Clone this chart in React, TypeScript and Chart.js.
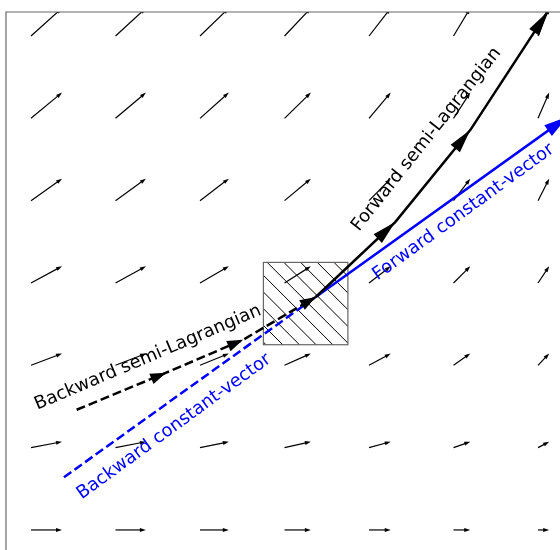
import React, { useEffect, useRef } from "react";
import { Chart, registerables } from "chart.js";

Chart.register(...registerables);

// Sample points of the velocity field
const gridX = [0, 1, 2, 3, 4, 5, 6];
const gridY = [0, 1, 2, 3, 4, 5, 6];
// u varies by column, v varies by row (arbitrary velocity units)
const velU = [1.0, 0.98, 0.93, 0.85, 0.7, 0.54, 0.36];
const velV = [0.0, 0.19, 0.38, 0.54, 0.71, 0.83, 0.9];

// Hatched grid cell
const cellX = [2.75, 3.75];
const cellY = [2.25, 3.25];

// Trajectories through the arrival point
const fwdSemiLagX = [3.37, 4.31, 5.2, 6.11];
const fwdSemiLagY = [2.83, 3.74, 4.86, 6.29];
const bwdSemiLagX = [0.54, 1.6, 2.51, 3.37];
const bwdSemiLagY = [1.46, 1.91, 2.31, 2.83];
const fwdConstX = [3.37, 6.35];
const fwdConstY = [2.83, 5.02];
const bwdConstX = [0.39, 3.37];
const bwdConstY = [0.64, 2.83];

// Annotations
const labelText = [
  "Forward semi-Lagrangian",
  "Backward semi-Lagrangian",
  "Forward constant-vector",
  "Backward constant-vector",
];
const labelX = [3.88, 0.075, 4.1, 0.6];
const labelY = [3.62, 1.46, 3.03, 0.37];
const labelAngle = [51.5, 23, 36, 36];
const labelColor = ["#000000", "#000000", "#0000ff", "#0000ff"];

const BLUE = "#0000ff";
const BLACK = "#000000";
const SPINE = "#666666";
const QUIVER_PX = 31; // pixel length of a unit velocity arrow

const pts = (xs: number[], ys: number[]) => xs.map((x, i) => ({ x, y: ys[i] }));

function drawHead(ctx: CanvasRenderingContext2D, fx: number, fy: number, tx: number, ty: number, len: number, width: number, color: string) {
  const dx = tx - fx;
  const dy = ty - fy;
  const d = Math.hypot(dx, dy) || 1;
  const ux = dx / d;
  const uy = dy / d;
  const bx = tx - ux * len;
  const by = ty - uy * len;
  const nx = -uy * (width / 2);
  const ny = ux * (width / 2);
  ctx.beginPath();
  ctx.moveTo(tx, ty);
  ctx.lineTo(bx + nx, by + ny);
  ctx.lineTo(bx - nx, by - ny);
  ctx.closePath();
  ctx.fillStyle = color;
  ctx.fill();
}

const fieldPlugin = {
  id: "fieldPlugin",
  beforeDatasetsDraw(chart: any) {
    const { ctx, chartArea } = chart;
    const xs = chart.scales.x;
    const ys = chart.scales.y;

    ctx.save();
    ctx.beginPath();
    ctx.rect(chartArea.left, chartArea.top, chartArea.right - chartArea.left, chartArea.bottom - chartArea.top);
    ctx.clip();

    // velocity field arrows
    const meta = chart.getDatasetMeta(0);
    meta.data.forEach((el: any, k: number) => {
      const i = k % gridX.length;
      const j = Math.floor(k / gridX.length);
      const x0 = el.x;
      const y0 = el.y;
      const x1 = x0 + velU[i] * QUIVER_PX;
      const y1 = y0 - velV[j] * QUIVER_PX;
      const d = Math.hypot(x1 - x0, y1 - y0);
      const ux = (x1 - x0) / d;
      const uy = (y1 - y0) / d;
      ctx.beginPath();
      ctx.moveTo(x0, y0);
      ctx.lineTo(x1 - ux * 4, y1 - uy * 4);
      ctx.strokeStyle = BLACK;
      ctx.lineWidth = 1.2;
      ctx.stroke();
      drawHead(ctx, x0, y0, x1, y1, 6, 4, BLACK);
    });

    // hatched cell
    const left = xs.getPixelForValue(cellX[0]);
    const right = xs.getPixelForValue(cellX[1]);
    const top = ys.getPixelForValue(cellY[1]);
    const bottom = ys.getPixelForValue(cellY[0]);
    ctx.save();
    ctx.beginPath();
    ctx.rect(left, top, right - left, bottom - top);
    ctx.clip();
    ctx.strokeStyle = BLACK;
    ctx.lineWidth = 1;
    const h = bottom - top;
    const step = 16.7;
    for (let k = Math.floor((left - h) / step) * step; k < right + step; k += step) {
      ctx.beginPath();
      ctx.moveTo(k, top);
      ctx.lineTo(k + h + 20, top + h + 20);
      ctx.stroke();
    }
    ctx.restore();
    ctx.strokeStyle = SPINE;
    ctx.lineWidth = 1.2;
    ctx.strokeRect(left, top, right - left, bottom - top);
    ctx.restore();
  },
  afterDatasetsDraw(chart: any) {
    const { ctx } = chart;
    // arrow heads, drawn for blue first then black on top
    const order = [4, 3, 2, 1];
    order.forEach((di) => {
      const ds = chart.data.datasets[di];
      const meta = chart.getDatasetMeta(di);
      const heads: number[] = ds.arrowHeads || [];
      heads.forEach((pi) => {
        const a = meta.data[pi - 1];
        const b = meta.data[pi];
        drawHead(ctx, a.x, a.y, b.x, b.y, ds.headLength, ds.headWidth, ds.borderColor);
      });
    });
  },
  afterDraw(chart: any) {
    const { ctx, chartArea } = chart;
    const xs = chart.scales.x;
    const ys = chart.scales.y;
    ctx.save();
    // axes frame
    ctx.strokeStyle = SPINE;
    ctx.lineWidth = 1.2;
    ctx.beginPath();
    ctx.moveTo(chartArea.left, chartArea.bottom + 5);
    ctx.lineTo(chartArea.left, chartArea.top);
    ctx.lineTo(chartArea.right + 5, chartArea.top);
    ctx.stroke();

    // labels along the trajectories
    ctx.font = "18px 'DejaVu Sans'";
    ctx.textAlign = "left";
    ctx.textBaseline = "alphabetic";
    labelText.forEach((t, i) => {
      ctx.save();
      ctx.translate(xs.getPixelForValue(labelX[i]), ys.getPixelForValue(labelY[i]));
      ctx.rotate((-labelAngle[i] * Math.PI) / 180);
      ctx.fillStyle = labelColor[i];
      ctx.fillText(t, 0, 0);
      ctx.restore();
    });
    ctx.restore();
  },
};

export default function App() {
  const ref = useRef<HTMLCanvasElement | null>(null);

  useEffect(() => {
    if (!ref.current) return;
    const gridPts: { x: number; y: number }[] = [];
    gridY.forEach((y) => gridX.forEach((x) => gridPts.push({ x, y })));

    const lineBase = { showLine: true, pointRadius: 0, fill: false, tension: 0 };

    const chart = new Chart(ref.current, {
      type: "scatter",
      data: {
        datasets: [
          { label: "field", data: gridPts, pointRadius: 0, showLine: false },
          {
            ...lineBase,
            label: "Forward semi-Lagrangian",
            data: pts(fwdSemiLagX, fwdSemiLagY),
            borderColor: BLACK,
            borderWidth: 2.5,
            arrowHeads: [1, 2, 3],
            headLength: 24,
            headWidth: 12,
          } as any,
          {
            ...lineBase,
            label: "Backward semi-Lagrangian",
            data: pts(bwdSemiLagX, bwdSemiLagY),
            borderColor: BLACK,
            borderWidth: 2.5,
            borderDash: [9, 4],
            arrowHeads: [1, 2, 3],
            headLength: 16,
            headWidth: 11,
          } as any,
          {
            ...lineBase,
            label: "Forward constant-vector",
            data: pts(fwdConstX, fwdConstY),
            borderColor: BLUE,
            borderWidth: 2.5,
            arrowHeads: [1],
            headLength: 24,
            headWidth: 13,
          } as any,
          {
            ...lineBase,
            label: "Backward constant-vector",
            data: pts(bwdConstX, bwdConstY),
            borderColor: BLUE,
            borderWidth: 2.5,
            borderDash: [9, 4],
            arrowHeads: [],
            headLength: 0,
            headWidth: 0,
          } as any,
        ],
      },
      options: {
        animation: false,
        responsive: false,
        maintainAspectRatio: false,
        layout: { padding: { left: 6, top: 12, right: 0, bottom: 0 } },
        plugins: { legend: { display: false }, tooltip: { enabled: false } },
        scales: {
          x: { type: "linear", display: false, min: -0.2959, max: 6.26 },
          y: { type: "linear", display: false, min: -0.2435, max: 6.2915 },
        },
      },
      plugins: [fieldPlugin],
    });
    return () => chart.destroy();
  }, []);

  return (
    <div style={{ position: "absolute", left: 0, top: 0, width: 560, height: 550, background: "#fff" }}>
      <canvas ref={ref} width={560} height={550} style={{ width: 560, height: 550, display: "block" }} />
    </div>
  );
}
